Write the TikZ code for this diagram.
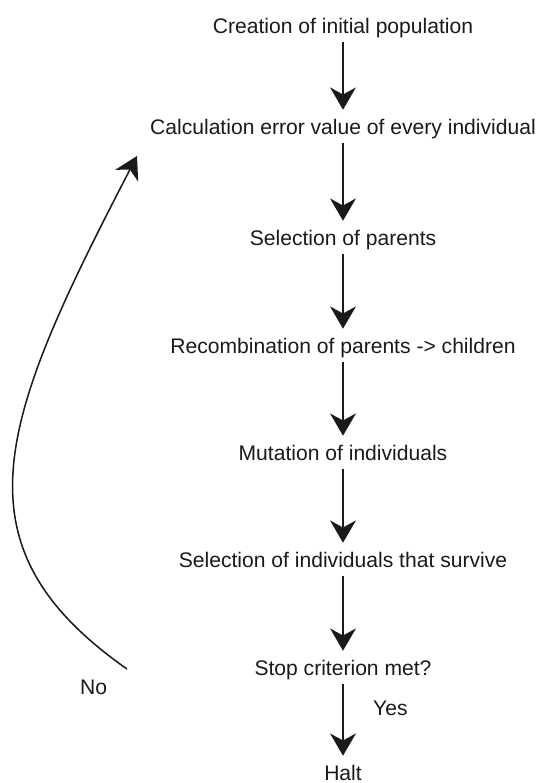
\documentclass[tikz,border=0pt]{standalone}
\usepackage{fontspec}
\setmainfont{Liberation Sans}
\usetikzlibrary{arrows.meta}
\definecolor{ink}{HTML}{1A1A1A}
\tikzset{>={Stealth[length=19pt,width=22pt,inset=6pt]}}
\tikzset{
  stage/.style={ink,anchor=base,inner xsep=0pt,inner ysep=7.6pt,text height=12.9pt,text depth=0pt,font=\fontsize{18pt}{21pt}\selectfont},
  tag/.style={ink,anchor=base west,inner sep=0pt,font=\fontsize{18pt}{21pt}\selectfont},
  flow/.style={ink,line width=1.8pt,->},
  loopback/.style={ink,line width=1.3pt,->},
}

\begin{document}
\begin{tikzpicture}[x=0.03cm,y=-0.03cm]
            \useasboundingbox (0,0) rectangle (536,783);
            \node[stage] (creation) at(343,33) {Creation of initial population};
            \node[stage] (calc) at(343,134) {Calculation error value of every individual};
            \node[stage] (parents) at(343,245) {Selection of parents};
            \node[stage] (recomb) at(343,353) {Recombination of parents -> children};
            \node[stage] (mutation) at(343,460) {Mutation of individuals};
            \node[stage] (survive) at(343,567) {Selection of individuals that survive};
            \node[stage] (stop) at(343,675) {Stop criterion met?};
            \node[stage] (halt) at(343,780) {Halt};
            \node[tag] (yes) at(373,715) {Yes};
            \node[tag] (no) at(80,694) {No};
            \coordinate (loopstart) at(127,669);
            \coordinate (loopend) at(137,156);
            \draw[flow] (creation) -- (calc);
            \draw[flow] (calc) -- (parents);
            \draw[flow] (parents) -- (recomb);
            \draw[flow] (recomb) -- (mutation);
            \draw[flow] (mutation) -- (survive);
            \draw[flow] (survive) -- (stop);
            \draw[flow] (stop) -- (halt);
            \draw[loopback] (loopstart) .. controls (-50,545) and (0,420) .. (loopend);
        \end{tikzpicture}
\end{document}
